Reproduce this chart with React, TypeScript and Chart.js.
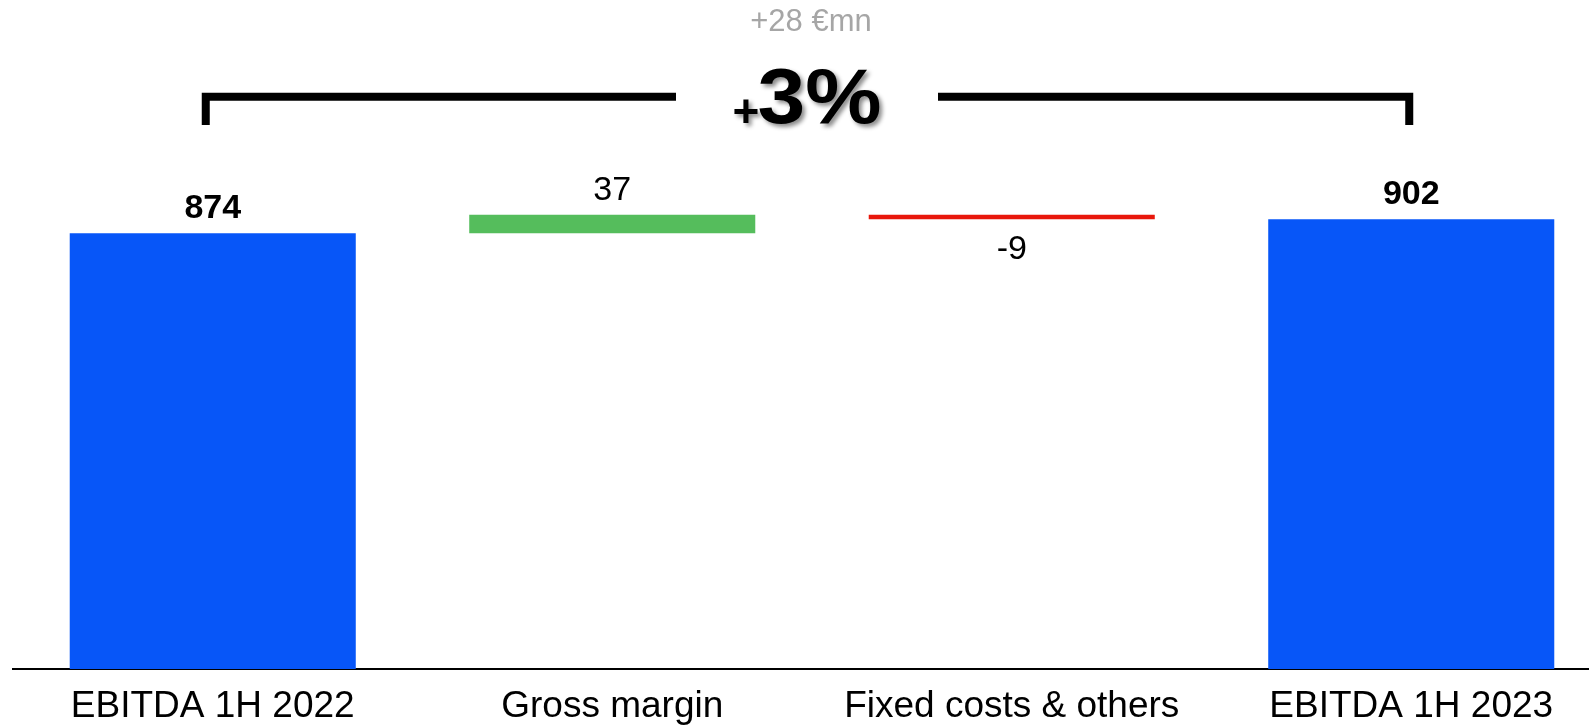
import React, { useEffect, useRef } from "react";
import { Chart, registerables } from "chart.js";

Chart.register(...registerables);

const categories = ["EBITDA 1H 2022", "Gross margin", "Fixed costs & others", "EBITDA 1H 2023"];
const startValue = 874;
const changes = [37, -9];
const endValue = 902;
const changeText = "+28 €mn";
const pctSign = "+";
const pctText = "3%";

const BLUE = "#0756F8";
const GREEN = "#55BD5C";
const RED = "#E8170B";
const FONT = "'Liberation Sans', Arial, sans-serif";

function buildBars() {
  const bars: [number, number][] = [[0, startValue]];
  let run = startValue;
  for (const c of changes) {
    bars.push([run, run + c]);
    run += c;
  }
  bars.push([0, endValue]);
  return bars;
}

const barColors = [BLUE, ...changes.map((c) => (c >= 0 ? GREEN : RED)), BLUE];
const valueLabels = [String(startValue), ...changes.map((c) => String(c)), String(endValue)];

const labelPlugin = {
  id: "wfLabels",
  afterDatasetsDraw(chart: any) {
    const ctx = chart.ctx;
    const meta = chart.getDatasetMeta(0);
    ctx.save();
    ctx.fillStyle = "#000";
    ctx.textAlign = "center";
    ctx.textBaseline = "alphabetic";
    meta.data.forEach((el: any, i: number) => {
      const p = el.getProps(["x", "y", "base"], true);
      const top = Math.min(p.y, p.base);
      const bottom = Math.max(p.y, p.base);
      const isTotal = i === 0 || i === meta.data.length - 1;
      const isNeg = !isTotal && changes[i - 1] < 0;
      ctx.font = (isTotal ? "bold " : "") + "34px " + FONT;
      if (isNeg) ctx.fillText(valueLabels[i], p.x, bottom + 40);
      else ctx.fillText(valueLabels[i], p.x, top - 15);
    });
    ctx.restore();
  },
};

const bracketPlugin = {
  id: "bracket",
  afterDraw(chart: any) {
    const ctx = chart.ctx;
    const xs = chart.scales.x;
    const xl = xs.getPixelForValue(0) - 7;
    const xr = xs.getPixelForValue(categories.length - 1) - 2;
    const cx = 807;
    const gap = 131;
    const yLine = 96.7;
    const yEnd = 125;
    ctx.save();
    ctx.strokeStyle = "#000";
    ctx.lineWidth = 8;
    ctx.lineJoin = "miter";
    ctx.lineCap = "butt";
    ctx.beginPath();
    ctx.moveTo(xl, yEnd);
    ctx.lineTo(xl, yLine);
    ctx.lineTo(cx - gap, yLine);
    ctx.stroke();
    ctx.beginPath();
    ctx.moveTo(cx + gap, yLine);
    ctx.lineTo(xr, yLine);
    ctx.lineTo(xr, yEnd);
    ctx.stroke();

    // +28 €mn
    ctx.fillStyle = "#A6A6A6";
    ctx.font = "31px " + FONT;
    ctx.textAlign = "center";
    ctx.textBaseline = "alphabetic";
    ctx.fillText(changeText, 811, 31);

    // +3%
    const sx = 1.1;
    ctx.font = "bold 46px " + FONT;
    const wPlus = ctx.measureText(pctSign).width;
    ctx.font = "bold 78px " + FONT;
    const wPct = ctx.measureText(pctText).width * sx;
    const total = wPlus + wPct - 2;
    const left = cx - total / 2;
    ctx.shadowColor = "rgba(0,0,0,0.45)";
    ctx.shadowOffsetX = 3;
    ctx.shadowOffsetY = 3;
    ctx.shadowBlur = 4;
    ctx.fillStyle = "#000";
    ctx.textAlign = "left";
    ctx.font = "bold 46px " + FONT;
    ctx.fillText(pctSign, left, 127);
    ctx.translate(left + wPlus - 2, 123);
    ctx.scale(sx, 1);
    ctx.font = "bold 78px " + FONT;
    ctx.fillText(pctText, 0, 0);
    ctx.restore();
  },
};

export default function App() {
  const ref = useRef<HTMLCanvasElement | null>(null);
  useEffect(() => {
    if (!ref.current) return;
    const chart = new Chart(ref.current, {
      type: "bar",
      data: {
        labels: categories,
        datasets: [
          {
            data: buildBars() as any,
            backgroundColor: barColors,
            borderWidth: 0,
            categoryPercentage: 1,
            barPercentage: 0.716,
          },
        ],
      },
      options: {
        animation: false,
        responsive: false,
        maintainAspectRatio: false,
        devicePixelRatio: 1,
        layout: { padding: { left: 13, right: 1, top: 0, bottom: 0 } },
        plugins: { legend: { display: false }, tooltip: { enabled: false } },
        scales: {
          x: {
            grid: { display: false, drawTicks: false },
            border: { display: true, color: "#000", width: 2 },
            ticks: {
              color: "#000",
              font: { family: FONT, size: 37 },
              padding: 15.6,
              maxRotation: 0,
              autoSkip: false,
            },
            afterFit: (scale: any) => {
              scale.height = 58;
            },
          },
          y: {
            display: false,
            min: 0,
            max: 1342,
          },
        },
      },
      plugins: [labelPlugin, bracketPlugin],
    });
    return () => chart.destroy();
  }, []);
  return (
    <div style={{ position: "absolute", left: 0, top: 0, width: 1589, height: 727, overflow: "hidden", background: "#fff" }}>
      <canvas ref={ref} width={1612} height={727} style={{ display: "block" }} />
    </div>
  );
}
